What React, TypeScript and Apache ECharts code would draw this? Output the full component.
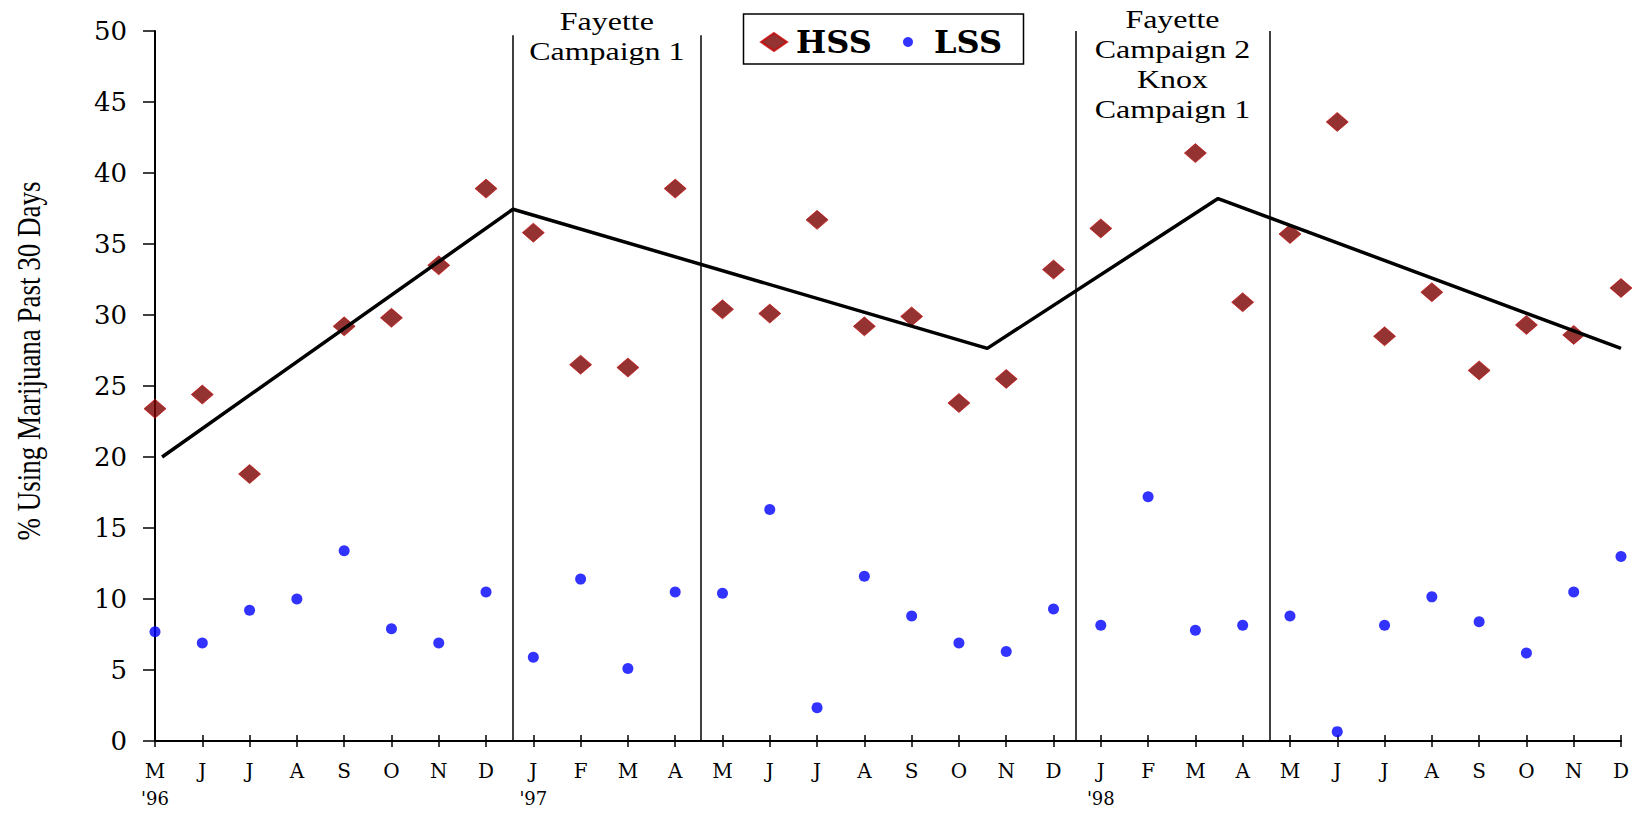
import React, { useEffect, useRef } from "react";
import * as echarts from "echarts";

const months = ["M","J","J","A","S","O","N","D","J","F","M","A","M","J","J","A","S","O","N","D","J","F","M","A","M","J","J","A","S","O","N","D"];
const yearLabels = ["'96","","","","","","","","'97","","","","","","","","","","","","'98","","","","","","","","","","",""];

const hss = [23.4, 24.4, 18.8, null, 29.2, 29.8, 33.5, 38.9, 35.8, 26.5, 26.3, 38.9, 30.4, 30.1, 36.7, 29.2, 29.9, 23.8, 25.5, 33.2, 36.1, null, 41.4, 30.9, 35.7, 43.6, 28.5, 31.6, 26.1, 29.3, 28.6, 31.9];
const lss = [7.7, 6.9, 9.2, 10.0, 13.4, 7.9, 6.9, 10.5, 5.9, 11.4, 5.1, 10.5, 10.4, 16.3, 2.35, 11.6, 8.8, 6.9, 6.3, 9.3, 8.15, 17.2, 7.8, 8.15, 8.8, 0.66, 8.15, 10.15, 8.4, 6.2, 10.5, 13.0];

const trendX = [0.15, 7.57, 17.6, 22.48, 31];
const trendY = [20.0, 37.45, 27.65, 38.2, 27.65];

const campaignX = [7.57, 11.54, 19.46, 23.57];
const campaignTop = [49.7, 49.7, 50, 50];
const campaignLabels = [
  { text: "Fayette\nCampaign 1", from: 0, to: 1, top: 6 },
  { text: "Fayette\nCampaign 2\nKnox\nCampaign 1", from: 2, to: 3, top: 4 },
];

const yAxisName = "% Using Marijuana Past 30 Days";

export default function App() {
  const ref = useRef<HTMLDivElement>(null);
  useEffect(() => {
    if (!ref.current) return;
    const chart = echarts.init(ref.current, null, { renderer: "svg" });
    const serifAxis = "DejaVu Serif";
    const option: any = {
      animation: false,
      backgroundColor: "#fff",
      grid: { left: 155, right: 17, top: 31, bottom: 72 },
      legend: [
        {
          data: [{ name: "HSS", icon: "diamond" }],
          left: 760,
          top: 24,
          padding: 0,
          itemWidth: 26,
          itemHeight: 18,
          textStyle: { fontFamily: serifAxis, fontWeight: "bold", fontSize: 32, color: "#000", lineHeight: 36, padding: [0, 0, 0, 4] },
        },
        {
          data: [{ name: "LSS", icon: "circle" }],
          left: 903,
          top: 24,
          padding: 0,
          itemWidth: 26,
          itemHeight: 10,
          textStyle: { fontFamily: serifAxis, fontWeight: "bold", fontSize: 32, color: "#000", lineHeight: 36, padding: [0, 0, 0, 8] },
        },
      ],
      xAxis: [
        {
          type: "value",
          min: 0,
          max: 31,
          interval: 1,
          axisLine: { show: true, lineStyle: { color: "#000", width: 2 } },
          axisTick: { show: true, length: 6, lineStyle: { color: "#000", width: 1.5 } },
          splitLine: { show: false },
          axisLabel: {
            margin: 16,
            color: "#000",
            formatter: (v: number) => {
              const i = Math.round(v);
              const m = months[i] ?? "";
              const y = yearLabels[i] ?? "";
              return y ? `{m|${m}}\n{y|${y}}` : `{m|${m}}`;
            },
            rich: {
              m: { fontFamily: serifAxis, fontSize: 20, lineHeight: 28, color: "#000" },
              y: { fontFamily: serifAxis, fontSize: 18, lineHeight: 26, color: "#000" },
            },
          },
        },
        {
          type: "value",
          min: 0,
          max: 31,
          interval: 1,
          position: "bottom",
          axisLine: { show: false },
          axisTick: { show: true, inside: true, length: 6, lineStyle: { color: "#000", width: 1.5 } },
          axisLabel: { show: false },
          splitLine: { show: false },
        },
      ],
      yAxis: {
        type: "value",
        min: 0,
        max: 50,
        interval: 5,
        axisLine: { show: true, lineStyle: { color: "#000", width: 2 } },
        axisTick: { show: true, length: 12, lineStyle: { color: "#000", width: 1.5 } },
        splitLine: { show: false },
        axisLabel: { margin: 28, fontFamily: serifAxis, fontSize: 26, color: "#000" },
      },
      series: [
        {
          name: "HSS",
          type: "scatter",
          symbol: "diamond",
          symbolSize: [22, 19],
          itemStyle: { color: "#7a0000", borderColor: "#c80000", borderWidth: 0.8 },
          data: hss.map((v, i) => (v == null ? null : [i, v])).filter((d) => d !== null),
          z: 3,
        },
        {
          name: "LSS",
          type: "scatter",
          symbol: "circle",
          symbolSize: 11,
          itemStyle: { color: "#0000ff" },
          data: lss.map((v, i) => [i, v]),
          z: 3,
        },
        {
          name: "Trend",
          type: "line",
          showSymbol: false,
          symbol: "none",
          lineStyle: { color: "#000", width: 3.5 },
          data: trendX.map((x, i) => [x, trendY[i]]),
          z: 4,
          markLine: {
            silent: true,
            symbol: ["none", "none"],
            label: { show: false },
            lineStyle: { color: "#000", width: 1.5, type: "solid" },
            data: campaignX.map((x, i) => [{ coord: [x, 0] }, { coord: [x, campaignTop[i]] }]),
          },
        },
      ],
    };
    chart.setOption(option);

    const graphics: any[] = [
      {
        type: "rect",
        shape: { x: 743.5, y: 14, width: 280, height: 50 },
        style: { fill: "none", stroke: "#000", lineWidth: 1.5 },
        z: 10,
      },
      {
        type: "text",
        x: 28,
        y: 361,
        rotation: Math.PI / 2,
        scaleY: 1.28,
        style: {
          text: yAxisName,
          font: '27px "Liberation Serif"',
          fill: "#000",
          textAlign: "center",
          textVerticalAlign: "middle",
        },
      },
    ];
    campaignLabels.forEach((c) => {
      const a = chart.convertToPixel({ gridIndex: 0 }, [campaignX[c.from], 0]) as number[];
      const b = chart.convertToPixel({ gridIndex: 0 }, [campaignX[c.to], 0]) as number[];
      graphics.push({
        type: "text",
        x: (a[0] + b[0]) / 2,
        y: c.top,
        scaleX: 1.28,
        style: {
          text: c.text,
          font: '25px "Liberation Serif"',
          fill: "#000",
          textAlign: "center",
          textVerticalAlign: "top",
          lineHeight: 30,
        },
      });
    });
    chart.setOption({ graphic: graphics });

    return () => chart.dispose();
  }, []);
  return (
    <div
      ref={ref}
      style={{ position: "fixed", left: 0, top: 0, width: 1638, height: 813 }}
    />
  );
}
